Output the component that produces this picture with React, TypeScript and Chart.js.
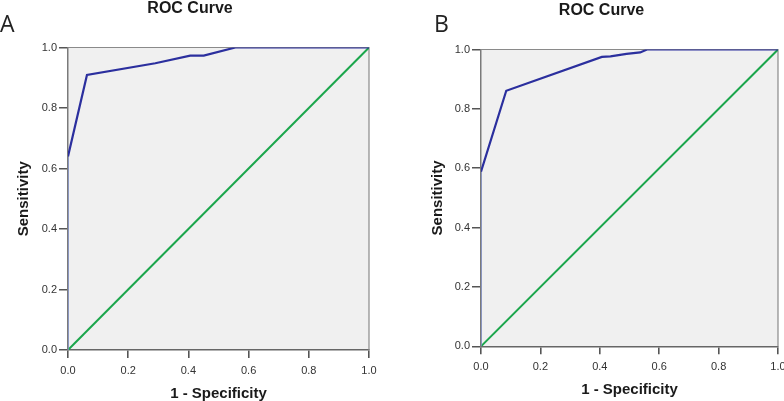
import React, { useEffect, useRef } from "react";
import { Chart, registerables } from "chart.js";
Chart.register(...registerables);

// ROC data
const rocA_fpr = [0, 0, 0.063, 0.29, 0.406, 0.451, 0.556, 1];
const rocA_tpr = [0, 0.64, 0.909, 0.948, 0.973, 0.973, 1, 1];
const rocB_fpr = [0, 0, 0.085, 0.407, 0.436, 0.49, 0.536, 0.559, 1];
const rocB_tpr = [0, 0.588, 0.861, 0.975, 0.977, 0.985, 0.99, 1, 1];
const refLine = [0, 1];
const tickValues = [0, 0.2, 0.4, 0.6, 0.8, 1.0];
const chartTitle = "ROC Curve";
const xTitle = "1 - Specificity";
const yTitle = "Sensitivity";
const panelLabels = ["A", "B"];

const FONT = "'Liberation Sans', Arial, sans-serif";

type Cfg = {
  left: number; width: number; padTop: number; padRight: number;
  yWidth: number; xHeight: number; yTitlePad: number; xTitlePad: number;
  titleX: number; titleY: number; letterX: number; letterY: number;
};

const cfgA: Cfg = { left: 0, width: 380, padTop: 47.5, padRight: 11, yWidth: 68, xHeight: 51, yTitlePad: 15, xTitlePad: -2, titleX: 190, titleY: 12.7, letterX: 0, letterY: 32 };
const cfgB: Cfg = { left: 424, width: 360, padTop: 49.5, padRight: 6, yWidth: 57, xHeight: 54.7, yTitlePad: 5, xTitlePad: 2, titleX: 177.5, titleY: 15, letterX: 10, letterY: 32 };

function Panel({ cfg, fpr, tpr, letter }: { cfg: Cfg; fpr: number[]; tpr: number[]; letter: string }) {
  const ref = useRef<HTMLCanvasElement>(null);
  useEffect(() => {
    const deco = {
      id: "deco",
      beforeDraw(chart: any) {
        const { ctx, chartArea: a } = chart;
        ctx.save();
        ctx.fillStyle = "#ffffff";
        ctx.fillRect(0, 0, chart.width, chart.height);
        ctx.fillStyle = "#f0f0f0";
        ctx.fillRect(a.left, a.top, a.right - a.left, a.bottom - a.top);
        ctx.restore();
      },
      beforeDatasetsDraw(chart: any) {
        const { ctx, chartArea: a } = chart;
        ctx.save();
        ctx.strokeStyle = "#8a8a8a";
        ctx.lineWidth = 1.2;
        ctx.beginPath();
        ctx.moveTo(a.left, a.top);
        ctx.lineTo(a.right, a.top);
        ctx.lineTo(a.right, a.bottom);
        ctx.stroke();
        ctx.restore();
      },
      afterDraw(chart: any) {
        const { ctx } = chart;
        ctx.save();
        ctx.fillStyle = "#1a1a1a";
        ctx.textAlign = "center";
        ctx.textBaseline = "alphabetic";
        ctx.font = `bold 16px ${FONT}`;
        ctx.fillText(chartTitle, cfg.titleX, cfg.titleY);
        ctx.textAlign = "left";
        ctx.font = `23px 'Open Sans', sans-serif`;
        ctx.fillStyle = "#222222";
        ctx.fillText(letter, cfg.letterX, cfg.letterY);
        ctx.restore();
      },
    };
    const commonTicks = {
      color: "#333333",
      font: { family: FONT, size: 11 },
      callback: (v: any) => Number(v).toFixed(1),
    };
    const chart = new Chart(ref.current!, {
      type: "line",
      data: {
        datasets: [
          {
            data: fpr.map((x, i) => ({ x, y: tpr[i] })),
            borderColor: "#2b2f9e",
            borderWidth: 2.2,
            pointRadius: 0,
            tension: 0,
            clip: 0,
            segment: {
              borderColor: (c: any) => (c.p0.parsed.x === 0 && c.p1.parsed.x === 0 ? "#7d8cc4" : "#2b2f9e"),
              borderWidth: (c: any) => (c.p0.parsed.x === 0 && c.p1.parsed.x === 0 ? 1.5 : 2.2),
            },
          } as any,
          {
            data: refLine.map((v) => ({ x: v, y: v })),
            borderColor: "#1ba64c",
            borderWidth: 2,
            pointRadius: 0,
            tension: 0,
            clip: 0,
          } as any,
        ],
      },
      options: {
        animation: false,
        responsive: false,
        maintainAspectRatio: false,
        layout: { padding: { top: cfg.padTop, right: cfg.padRight, left: 0, bottom: 0 } },
        plugins: { legend: { display: false }, tooltip: { enabled: false }, title: { display: false } },
        scales: {
          x: {
            type: "linear",
            min: 0,
            max: 1,
            afterBuildTicks: (s: any) => { s.ticks = tickValues.map((v) => ({ value: v })); },
            ticks: { ...commonTicks, padding: 6, maxRotation: 0, autoSkip: false },
            grid: { drawOnChartArea: false, drawTicks: true, tickLength: 8, color: "#555555", lineWidth: 1.6 },
            border: { display: true, color: "#666666", width: 1.6 },
            title: {
              display: true,
              text: xTitle,
              color: "#1a1a1a",
              font: { family: FONT, size: 15, weight: "bold" },
              padding: { top: 0, bottom: cfg.xTitlePad },
            },
            afterFit: (s: any) => { s.height = cfg.xHeight; s.paddingLeft = 0; s.paddingRight = 0; },
          },
          y: {
            type: "linear",
            min: 0,
            max: 1,
            afterBuildTicks: (s: any) => { s.ticks = tickValues.map((v) => ({ value: v })); },
            ticks: { ...commonTicks, padding: 2 },
            grid: { drawOnChartArea: false, drawTicks: true, tickLength: 9, color: "#555555", lineWidth: 1.5 },
            border: { display: true, color: "#7a7a7a", width: 1.5 },
            title: {
              display: true,
              text: yTitle,
              color: "#1a1a1a",
              font: { family: FONT, size: 15, weight: "bold" },
              padding: { top: cfg.yTitlePad, bottom: 0 },
            },
            afterFit: (s: any) => { s.width = cfg.yWidth; s.paddingTop = 0; s.paddingBottom = 0; },
          },
        },
      } as any,
      plugins: [deco],
    });
    return () => chart.destroy();
  }, []);
  return (
    <canvas
      ref={ref}
      width={cfg.width}
      height={401}
      style={{ position: "absolute", left: cfg.left, top: 0, width: cfg.width, height: 401 }}
    />
  );
}

export default function App() {
  return (
    <div style={{ position: "fixed", left: 0, top: 0, width: 784, height: 401, background: "#ffffff", overflow: "hidden" }}>
      <Panel cfg={cfgA} fpr={rocA_fpr} tpr={rocA_tpr} letter={panelLabels[0]} />
      <Panel cfg={cfgB} fpr={rocB_fpr} tpr={rocB_tpr} letter={panelLabels[1]} />
    </div>
  );
}
